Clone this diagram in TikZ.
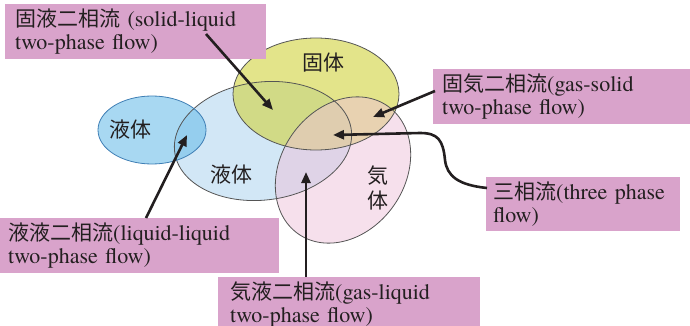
\documentclass[tikz,border=0pt]{standalone}
\usepackage{fontspec}
\newfontfamily\enfont{texgyretermes-regular.otf}
\newfontfamily\jpfont{Noto Sans CJK JP}
\usetikzlibrary{arrows.meta}
\definecolor{boxpink}{HTML}{D9A3CB}
\definecolor{ink}{HTML}{231F20}
\definecolor{edgegray}{HTML}{555555}
\definecolor{edgeblue}{HTML}{3F7FB5}
\definecolor{bigblue}{RGB}{165,207,237}
\definecolor{smallblue}{RGB}{110,190,233}
\definecolor{solidyel}{RGB}{208,210,60}
\definecolor{gaspink}{RGB}{237,193,217}
\newcommand\labfont{\enfont\fontsize{22}{23}\selectfont}
\newcommand\jp[1]{{\jpfont\fontsize{21}{23}\selectfont #1}}
\begin{document}
\begin{tikzpicture}[x=1pt,y=-1pt,
  lbl/.style={fill=boxpink, anchor=north west, align=left, inner ysep=0pt, font=\labfont, text=ink},
  inlbl/.style={font=\jpfont\fontsize{21}{25}\selectfont, text=ink, inner sep=0pt},
  arr/.style={line width=2.6pt, draw=ink, -{Triangle[length=11pt,width=9pt]}},
  edge/.style={draw=edgegray, line width=0.8pt}]
\useasboundingbox (0,0) rectangle (690,326);
\clip (0,0) rectangle (690,326);
% fills
\fill[bigblue, fill opacity=0.5, rotate around={7:(263,141)}] (263,141) ellipse [x radius=89pt, y radius=59pt];
\fill[smallblue, fill opacity=0.6] (152,130) ellipse [x radius=54pt, y radius=34pt];
\fill[solidyel, fill opacity=0.6] (316,94) ellipse [x radius=83pt, y radius=56pt];
\fill[gaspink, fill opacity=0.5, rotate around={55:(343,170)}] (343,170) ellipse [x radius=78pt, y radius=62pt];
% outlines
\draw[edge, rotate around={7:(263,141)}] (263,141) ellipse [x radius=89pt, y radius=59pt];
\draw[edge, draw=edgeblue] (152,130) ellipse [x radius=54pt, y radius=34pt];
\draw[edge] (316,94) ellipse [x radius=83pt, y radius=56pt];
\draw[edge, rotate around={55:(343,170)}] (343,170) ellipse [x radius=78pt, y radius=62pt];
% labels inside
\node[inlbl] (lq1) at (130,130) {液体};
\node[inlbl] (lq2) at (231,175) {液体};
\node[inlbl] (sd) at (323,63) {固体};
\node[inlbl, align=center] (gs) at (378,188) {気\\体};
% boxes
\node[lbl, text width=241pt, inner xsep=10pt, minimum height=55pt] (sl) at (5,4)
  {\mbox{\jp{固液二相流} (solid-liquid}\\\mbox{two-phase flow)}};
\node[lbl, text width=239pt, inner xsep=9pt, minimum height=55pt] (gsb) at (433,69)
  {\mbox{\jp{固気二相流}(gas-solid}\\\mbox{two-phase flow)}};
\node[lbl, text width=180pt, inner xsep=7pt, minimum height=54pt] (tp) at (486,177)
  {\mbox{\jp{三相流}(three phase}\\\mbox{flow)}};
\node[lbl, text width=263pt, inner xsep=8pt, minimum height=55pt] (ll) at (0,218)
  {\mbox{\jp{液液二相流}(liquid-liquid}\\\mbox{two-phase flow)}};
\node[lbl, text width=238pt, inner xsep=12pt, minimum height=55pt] (gl) at (218,277)
  {\mbox{\jp{気液二相流}(gas-liquid}\\\mbox{two-phase flow)}};
% arrow ends
\coordinate (s1) at (206,34);  \coordinate (t1) at (273,110);
\coordinate (s2) at (435,91);  \coordinate (t2) at (373,117);
\coordinate (s3) at (487,188); \coordinate (t3) at (333,135);
\coordinate (s4) at (146,218); \coordinate (t4) at (187,135);
\coordinate (s5) at (306,277); \coordinate (t5) at (306,172);
\draw[arr] (s1) -- (t1);
\draw[arr] (s2) -- (t2);
\draw[arr] (s3) .. controls (458,185) and (447,176) .. (445,160)
  .. controls (443,140) and (438,133) .. (420,133) -- (t3);
\draw[arr] (s4) -- (t4);
\draw[arr] (s5) -- (t5);
\end{tikzpicture}
\end{document}
